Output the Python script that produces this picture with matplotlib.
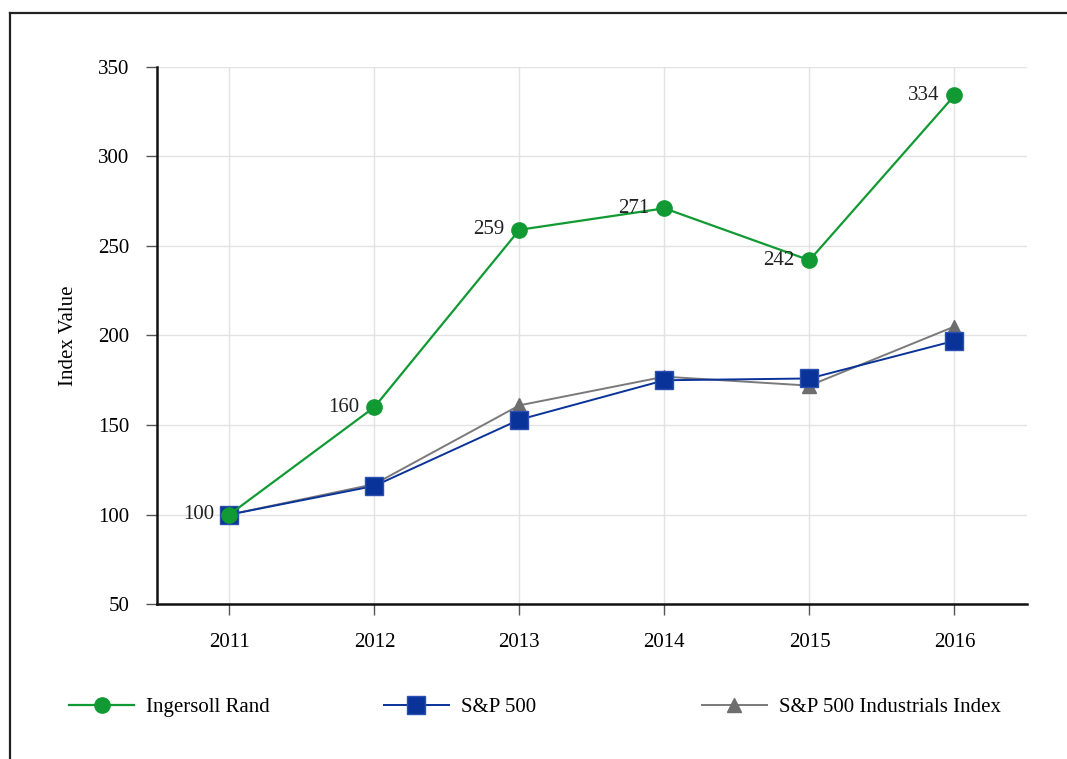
import matplotlib
matplotlib.use("Agg")
import matplotlib.pyplot as plt
from matplotlib.lines import Line2D

# data
years = [2011, 2012, 2013, 2014, 2015, 2016]
ingersoll = [100, 160, 259, 271, 242, 334]
sp500 = [100, 116, 153, 175, 176, 197]
industrials = [100, 117, 161, 177, 172, 205]

GREEN = "#119a33"
BLUE = "#0a3399"
GRAY = "#7a7a7a"

plt.rcParams["font.family"] = ["Liberation Serif", "DejaVu Serif"]
plt.rcParams["font.size"] = 15

fig = plt.figure(figsize=(10.67, 7.59), dpi=100)
ax = fig.add_axes([0.147, 0.204, 0.8155, 0.708])

# outer frame (top and left edges visible in the reference)
fig.add_artist(Line2D([0.0094, 0.0094], [0.0, 0.983], color="#222222", lw=1.6, transform=fig.transFigure))
fig.add_artist(Line2D([0.0094, 1.0], [0.983, 0.983], color="#222222", lw=1.6, transform=fig.transFigure))

h3, = ax.plot(years, industrials, color=GRAY, lw=1.4, marker="^", ms=10,
              markerfacecolor="#6e6e6e", markeredgecolor="#6e6e6e", zorder=3)
h2, = ax.plot(years, sp500, color=BLUE, lw=1.4, marker="s", ms=13,
              markerfacecolor=BLUE, markeredgecolor="#2a4fb0", zorder=4)
h1, = ax.plot(years, ingersoll, color=GREEN, lw=1.6, marker="o", ms=11,
              markerfacecolor=GREEN, markeredgecolor=GREEN, zorder=5)

for x, y in zip(years, ingersoll):
    ax.annotate(str(y), (x, y), xytext=(-11, 0), textcoords="offset points",
                ha="right", va="center", fontsize=15, color="#222222", zorder=6)

ax.set_xlim(2010.5, 2016.5)
ax.set_ylim(50, 350)
ax.set_xticks(years)
ax.set_yticks(range(50, 351, 50))
ax.set_ylabel("Index Value", fontsize=15, labelpad=14)

ax.grid(True, color="#e2e2e2", lw=1.0, zorder=0)
ax.set_axisbelow(True)
for s in ["top", "right"]:
    ax.spines[s].set_visible(False)
for s in ["left", "bottom"]:
    ax.spines[s].set_linewidth(1.8)
    ax.spines[s].set_color("#111111")
ax.tick_params(axis="y", direction="out", length=8, width=1, color="#555555", pad=12)
ax.tick_params(axis="x", direction="out", length=8, width=1, color="#555555", pad=13)

# legend entries spread across the bottom
entries = [(h1, "Ingersoll Rand", 0.065), (h2, "S&P 500", 0.360), (h3, "S&P 500 Industrials Index", 0.658)]
for h, lab, x0 in entries:
    fig.legend(handles=[h], labels=[lab], loc="center left", bbox_to_anchor=(x0, 0.068),
               frameon=False, handlelength=3.1, handletextpad=0.6, fontsize=15,
               borderaxespad=0, borderpad=0)

fig.savefig("out.png", dpi=100)
